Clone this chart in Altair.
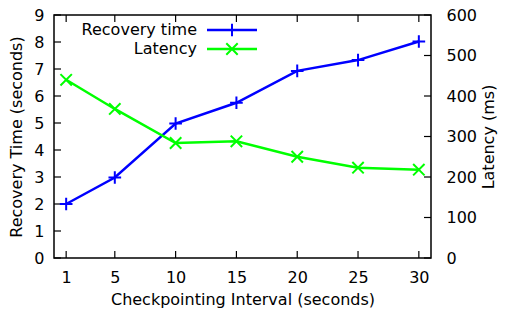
import altair as alt
import pandas as pd

# ---- data ----
intervals = [1, 5, 10, 15, 20, 25, 30]
recovery_time = [2.0, 2.98, 4.98, 5.75, 6.93, 7.33, 8.02]
latency_ms = [440, 368, 284, 288, 250, 223, 218]
x_tick_values = [1, 5, 10, 15, 20, 25, 30]
left_tick_values = [0, 1, 2, 3, 4, 5, 6, 7, 8, 9]
right_tick_values = [0, 100, 200, 300, 400, 500, 600]
legend_labels = ["Recovery time", "Latency"]
series_colors = ["#0000ff", "#00ff00"]

W, H = 377, 243
FONT = "DejaVu Sans"
FS = 16
TICK = 7
PLUS = "M-1,0L1,0M0,-1L0,1"
CROSS = "M-1,-1L1,1M-1,1L1,-1"

df = pd.DataFrame({"interval": intervals, "recovery": recovery_time, "latency": latency_ms})
xt = pd.DataFrame({"t": x_tick_values})
lt = pd.DataFrame({"t": left_tick_values})
rt = pd.DataFrame({"t": right_tick_values})

x_scale = alt.Scale(domain=[0, 31], nice=False, zero=False)
yl_scale = alt.Scale(domain=[0, 9], nice=False)
yr_scale = alt.Scale(domain=[0, 600], nice=False)

common_axis = dict(tickSize=0, domain=False, grid=False, labelFontSize=FS, titleFontSize=FS,
                   labelFont=FONT, titleFont=FONT, titleFontWeight="normal",
                   labelColor="black", titleColor="black", labelFlush=False)

x_axis = alt.Axis(values=x_tick_values, title="Checkpointing Interval (seconds)",
                  labelPadding=11, titlePadding=6, **common_axis)
yl_axis = alt.Axis(values=left_tick_values, title="Recovery Time (seconds)", orient="left",
                   labelPadding=10, titlePadding=9, **common_axis)
yr_axis = alt.Axis(values=right_tick_values, title="Latency (ms)", orient="right",
                   labelPadding=15, titlePadding=20, titleAngle=270, **common_axis)


def xenc(field):
    return alt.X(field, scale=x_scale, axis=x_axis)


base = alt.Chart(df)

rec_line = base.mark_line(color=series_colors[0], strokeWidth=2.5).encode(
    x=xenc("interval:Q"), y=alt.Y("recovery:Q", scale=yl_scale, axis=yl_axis))
rec_pts = base.mark_point(shape=PLUS, filled=False, size=160, strokeWidth=2,
                          color=series_colors[0], opacity=1).encode(
    x=xenc("interval:Q"), y=alt.Y("recovery:Q", scale=yl_scale, axis=yl_axis))

lat_line = base.mark_line(color=series_colors[1], strokeWidth=2.5).encode(
    x=xenc("interval:Q"), y=alt.Y("latency:Q", scale=yr_scale, axis=yr_axis))
lat_pts = base.mark_point(shape=CROSS, filled=False, size=130, strokeWidth=2,
                          color=series_colors[1], opacity=1).encode(
    x=xenc("interval:Q"), y=alt.Y("latency:Q", scale=yr_scale, axis=yr_axis))

# inward ticks (gnuplot style)
xb_ticks = alt.Chart(xt).mark_rule(color="black", strokeWidth=1.2).encode(
    x=xenc("t:Q"), y=alt.value(H), y2=alt.value(H - TICK))
xt_ticks = alt.Chart(xt).mark_rule(color="black", strokeWidth=1.2).encode(
    x=xenc("t:Q"), y=alt.value(0), y2=alt.value(TICK))
yl_ticks = alt.Chart(lt).mark_rule(color="black", strokeWidth=1.2).encode(
    y=alt.Y("t:Q", scale=yl_scale, axis=yl_axis), x=alt.value(0), x2=alt.value(TICK))
yr_ticks = alt.Chart(rt).mark_rule(color="black", strokeWidth=1.2).encode(
    y=alt.Y("t:Q", scale=yr_scale, axis=yr_axis), x=alt.value(W), x2=alt.value(W - TICK))

# gnuplot-style key: text, then line sample with marker
legend_layers = []
for i, (lab, col, shp, sz) in enumerate(zip(legend_labels, series_colors, [PLUS, CROSS], [160, 130])):
    ly = 15 + i * 19
    ldf = pd.DataFrame({"label": [lab]})
    legend_layers.append(alt.Chart(ldf).mark_text(align="right", baseline="middle", font=FONT,
                                                  fontSize=FS, color="black").encode(
        x=alt.value(143), y=alt.value(ly), text="label:N"))
    legend_layers.append(alt.Chart(ldf).mark_rule(color=col, strokeWidth=2.5).encode(
        x=alt.value(153), x2=alt.value(203), y=alt.value(ly)))
    legend_layers.append(alt.Chart(ldf).mark_point(shape=shp, filled=False, size=sz, strokeWidth=2,
                                                   color=col, opacity=1).encode(
        x=alt.value(178), y=alt.value(ly)))

left_group = alt.layer(yl_ticks, xb_ticks, xt_ticks, rec_line, rec_pts, *legend_layers)
right_group = alt.layer(yr_ticks, lat_line, lat_pts)

chart = alt.layer(left_group, right_group).resolve_scale(y="independent").properties(
    width=W, height=H,
    autosize=alt.AutoSizeParams(type="none"),
    padding={"left": 46, "top": 7, "right": 69, "bottom": 50},
    background="white",
).configure_view(stroke="black", strokeWidth=1.5)

chart.save("out.html", embed_options={"renderer": "svg", "actions": False})
